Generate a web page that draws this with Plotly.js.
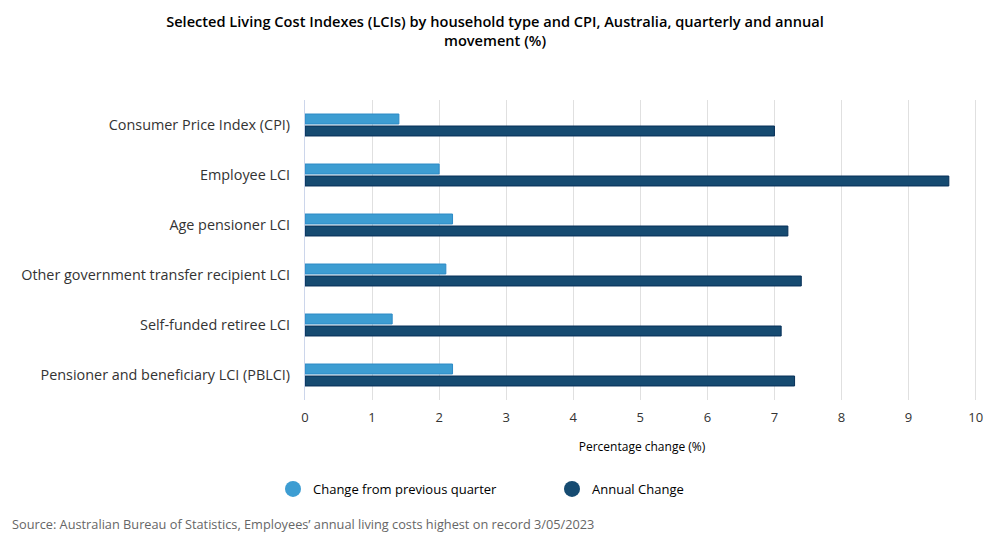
<!DOCTYPE html>
<html>
<head>
<meta charset="utf-8">
<script src="https://cdn.plot.ly/plotly-3.0.1.min.js"></script>
<style>
  html, body { margin: 0; padding: 0; background: #ffffff; }
  #chart { width: 990px; height: 550px; }
</style>
</head>
<body>
<div id="chart"></div>
<script>
// Living Cost Indexes by household type, March quarter 2023
const categories = [
  "Consumer Price Index (CPI)",
  "Employee LCI",
  "Age pensioner LCI",
  "Other government transfer recipient LCI",
  "Self-funded retiree LCI",
  "Pensioner and beneficiary LCI (PBLCI)"
];
const quarterlyChange = [1.4, 2.0, 2.2, 2.1, 1.3, 2.2];
const annualChange = [7.0, 9.6, 7.2, 7.4, 7.1, 7.3];
const seriesNames = ["Change from previous quarter", "Annual Change"];
const xTicks = [0, 1, 2, 3, 4, 5, 6, 7, 8, 9, 10];

const lightBlue = "#3d9dd2";
const darkBlue = "#164b71";
const font = "'Open Sans', 'DejaVu Sans', sans-serif";

const traces = [
  {
    type: "bar", orientation: "h", name: seriesNames[0],
    x: quarterlyChange, y: categories, showlegend: false,
    marker: { color: lightBlue, line: { color: "#2d8ac6", width: 1 } },
    hovertemplate: "%{y}: %{x}%<extra></extra>"
  },
  {
    type: "bar", orientation: "h", name: seriesNames[1],
    x: annualChange, y: categories, showlegend: false,
    marker: { color: darkBlue, line: { color: "#062f58", width: 1 } },
    hovertemplate: "%{y}: %{x}%<extra></extra>"
  },
  // round legend swatches
  {
    type: "scatter", mode: "markers", name: seriesNames[0],
    x: [null], y: [null], hoverinfo: "skip",
    marker: { symbol: "circle", size: 16, color: lightBlue }
  },
  {
    type: "scatter", mode: "markers", name: seriesNames[1],
    x: [null], y: [null], hoverinfo: "skip",
    marker: { symbol: "circle", size: 16, color: darkBlue }
  }
];

const layout = {
  width: 990, height: 550,
  margin: { l: 305, r: 11, t: 100, b: 150 },
  paper_bgcolor: "#ffffff", plot_bgcolor: "#ffffff",
  font: { family: font, color: "#333333", size: 13 },
  title: {
    text: "Selected Living Cost Indexes (LCIs) by household type and CPI, Australia, quarterly and annual<br>movement (%)",
    font: { family: font, size: 14.6, color: "#000000", weight: 600 },
    x: 0.5, xanchor: "center", y: 1 - 27 / 550, yanchor: "middle", yref: "container"
  },
  barmode: "group",
  bargap: 0.52,
  bargroupgap: 0.17,
  xaxis: {
    range: [0, 10.05],
    tickvals: xTicks,
    ticktext: xTicks.map(String),
    showgrid: true, gridcolor: "#e0e0e0", gridwidth: 1,
    zeroline: false, showline: false,
    ticks: "", ticklabelstandoff: 8,
    tickfont: { family: font, size: 13, color: "#333333" },
    title: {
      text: "Percentage change (%)",
      font: { family: font, size: 12, color: "#000000" },
      standoff: 17
    },
    fixedrange: true
  },
  yaxis: {
    type: "category",
    categoryorder: "array", categoryarray: categories,
    autorange: "reversed",
    showgrid: false, zeroline: false,
    showline: true, linecolor: "#ccd6eb", linewidth: 1,
    ticks: "", ticklabelstandoff: 11,
    tickfont: { family: font, size: 14.4, color: "#333333" },
    fixedrange: true
  },
  showlegend: true,
  legend: {
    orientation: "h",
    xref: "container", x: 273 / 990, xanchor: "left",
    y: 1 - 489 / 550, yanchor: "middle", yref: "container",
    entrywidth: 234, entrywidthmode: "pixels",
    font: { family: font, size: 13, color: "#000000" },
    bgcolor: "rgba(0,0,0,0)"
  },
  annotations: [
    {
      text: "Source: Australian Bureau of Statistics, Employees’ annual living costs highest on record 3/05/2023",
      xref: "paper", yref: "paper",
      x: 0, xanchor: "left",
      y: 0, yanchor: "middle",
      showarrow: false,
      font: { family: font, size: 12.75, color: "#666666" }
    }
  ]
};

// place the source line in pixel terms relative to the page
const plotW = 990 - 305 - 11;
layout.annotations[0].x = (10 - 305) / plotW;
layout.annotations[0].y = -(524 - 400) / 300;

Plotly.newPlot("chart", traces, layout, { displayModeBar: false, responsive: false });
</script>
</body>
</html>
